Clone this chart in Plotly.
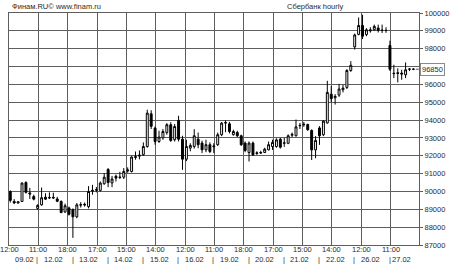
import plotly.graph_objects as go

# ---- data ----
day_labels = ["09.02", "12.02", "13.02", "14.02", "15.02", "16.02",
              "19.02", "20.02", "21.02", "22.02", "26.02", "27.02"]
day_first_hour = [12, 10, 10, 10, 10, 10, 10, 10, 10, 10, 10, 10]
day_last_hour = [18, 18, 18, 18, 18, 18, 18, 18, 18, 18, 18, 16]

opens = [90000, 89440, 89350, 89440, 90500, 89920, 89720, 89050, 89250, 89680,
         89630, 89670, 89580, 89440, 88850, 89080, 88980, 88580, 89230, 89280,
         89150, 90020, 90100, 90060, 90430, 91230, 90480, 90850, 90780, 90800,
         91150, 91120, 91900, 91980, 92060, 92520, 94350, 93550, 92800, 93000,
         93300, 93740, 92900, 93980, 92930, 91810, 92430, 92520, 92930, 92710,
         92335, 92620, 92500, 92620, 93180, 93830, 93790, 93180, 93300, 93120,
         92710, 92180, 92710, 92130, 92150, 92185, 92335, 92520, 92520, 92930,
         92700, 92700, 93150, 93120, 93680, 93740, 93750, 93420, 92330, 93560,
         93180, 93840, 95450, 95250, 95400, 95700, 95830, 96780, 98100, 98800,
         99300, 98790, 99000, 99060, 99160, 99030, 99030, 98180, 96600, 96650,
         96630, 96540, 96850, 96850]
highs = [90060, 89570, 89450, 90510, 90570, 90200, 89820, 89280, 90220, 89900,
         89950, 89930, 89700, 89500, 89320, 89150, 89050, 89350, 89400, 89380,
         90300, 90370, 90250, 90560, 91030, 91310, 90870, 90950, 91100, 91310,
         91350, 91980, 92240, 92300, 92750, 94580, 94550, 93640, 93400, 93500,
         93830, 93880, 93780, 94240, 93120, 92900, 92700, 93490, 93300, 92850,
         92900, 92750, 92700, 93300, 93890, 93980, 93900, 93460, 93400, 93180,
         92800, 92800, 92800, 92250, 92280, 92450, 92800, 92900, 92980, 93000,
         93000, 93200, 93300, 94030, 93840, 93900, 93800, 93480, 93100, 93660,
         94000, 96200, 95900, 95450, 96030, 95980, 96850, 97300, 98850, 99750,
         99900, 99150, 99200, 99350, 99350, 99350, 99200, 98450, 97100, 96900,
         96820, 97230, 96920, 96900]
lows = [89380, 89300, 89330, 89420, 89880, 89580, 89500, 88980, 89200, 89530,
        89580, 89580, 89400, 88780, 88800, 88650, 87400, 88500, 89100, 89150,
        89050, 89820, 89950, 90000, 90380, 90240, 90240, 90560, 90700, 90700,
        91050, 91060, 91780, 91800, 92000, 92450, 93500, 92620, 92720, 92900,
        93180, 92780, 92800, 92800, 91210, 91700, 92250, 92400, 92420, 92150,
        92200, 92150, 92150, 92550, 93100, 93320, 93250, 93130, 93050, 92550,
        92200, 91680, 92000, 92050, 92100, 92150, 92300, 92330, 92450, 92400,
        92500, 92650, 93050, 93080, 93500, 93620, 93400, 91760, 91860, 92610,
        93100, 93800, 95000, 94870, 95300, 95550, 95740, 96700, 97950, 98750,
        98540, 98700, 98900, 99000, 98910, 98880, 98890, 96750, 96350, 96110,
        96260, 96350, 96750, 96800]
closes = [89500, 89360, 89420, 90470, 89950, 89860, 89570, 89220, 89650, 89570,
          89660, 89640, 89450, 88820, 89200, 88720, 88580, 89250, 89260, 89250,
          90000, 90060, 90080, 90470, 90800, 90500, 90700, 90750, 90800, 91120,
          91200, 91930, 91950, 92030, 92520, 94390, 93650, 92800, 93050, 93360,
          93740, 92860, 93640, 92930, 91810, 92520, 92580, 93120, 92620, 92335,
          92620, 92240, 92540, 93180, 93830, 93860, 93360, 93360, 93120, 92620,
          92300, 92710, 92050, 92160, 92180, 92370, 92620, 92750, 92890, 92480,
          92720, 93120, 93200, 93620, 93700, 93760, 93460, 92330, 92860, 93120,
          93940, 95550, 95200, 95330, 95740, 95790, 96780, 97070, 98770, 99300,
          98700, 99060, 99050, 99250, 99030, 99030, 99020, 96850, 96620, 96620,
          96580, 96820, 96860, 96850]

time_tick_labels = ["12:00", "11:00", "18:00", "17:00", "15:00", "14:00", "12:00",
                    "11:00", "18:00", "17:00", "15:00", "14:00", "12:00", "11:00"]
price_ticks = list(range(87000, 100001, 1000))
last_price = 96850

# ---- build bar list ----
times = []
day_first_index = []
day_center_index = []
for d, h0, h1 in zip(day_labels, day_first_hour, day_last_hour):
    start = len(times)
    for h in range(h0, h1 + 1):
        times.append(f"{d} {h:02d}:00")
    day_first_index.append(start)
    day_center_index.append((start + len(times) - 1) / 2)
xs = list(range(len(times)))

W, H = 458, 266
ML, MR, MT, MB = 8, 31, 13, 21
BAR_PX = 4.0
X0 = -0.325
plot_w = W - ML - MR
plot_h = H - MT - MB
X1 = X0 + plot_w / BAR_PX
grid_step = 30 / BAR_PX
tickvals_x = [X0 + grid_step * j for j in range(len(time_tick_labels))]
tickvals_x[0] += 0.02

GRID = "#5e5e5e"
TXT = "#2a2a2a"
FONT = "Liberation Sans, Arial, sans-serif"
FS = 7.5

fig = go.Figure(go.Candlestick(
    x=xs, open=opens, high=highs, low=lows, close=closes,
    text=times, hoverinfo="text+y",
    increasing=dict(line=dict(color="#000000", width=1), fillcolor="#ffffff"),
    decreasing=dict(line=dict(color="#000000", width=1), fillcolor="#000000"),
    whiskerwidth=0, showlegend=False,
))

annotations = []


def py(px):
    return (H - MB - px) / plot_h


time_y = py(249.5)
date_y = py(259.5)
for v, t in zip(tickvals_x, time_tick_labels):
    annotations.append(dict(x=v, xref="x", y=time_y, yref="paper", text=t,
                            showarrow=False, xanchor="center", yanchor="middle",
                            font=dict(size=FS, color=TXT, family=FONT)))
for i, d in enumerate(day_labels):
    cx = day_center_index[i]
    if i == 0:
        cx += 0.7
    annotations.append(dict(x=cx, xref="x", y=date_y, yref="paper", text=d,
                            showarrow=False, xanchor="center", yanchor="middle",
                            font=dict(size=FS, color=TXT, family=FONT)))
    if i > 0:
        annotations.append(dict(x=day_first_index[i] - 0.1, xref="x", y=date_y, yref="paper",
                                text="|", showarrow=False, xanchor="center", yanchor="middle",
                                font=dict(size=FS, color=TXT, family=FONT)))

top_y = py(6.5)
annotations.append(dict(x=0, xref="paper", y=top_y, yref="paper",
                        text="Финам.RU© www.finam.ru", showarrow=False,
                        xanchor="left", yanchor="middle", xshift=1,
                        font=dict(size=FS, color=TXT, family=FONT)))
annotations.append(dict(x=(320.5 - ML) / plot_w, xref="paper", y=top_y, yref="paper",
                        text="Сбербанк hourly", showarrow=False,
                        xanchor="center", yanchor="middle",
                        font=dict(size=FS, color=TXT, family=FONT)))
annotations.append(dict(x=1, xref="paper", y=last_price, yref="y",
                        text=str(last_price), showarrow=False,
                        xanchor="left", yanchor="middle", xshift=1,
                        bordercolor="#8a8a8a", borderwidth=1, borderpad=1,
                        bgcolor="#ffffff",
                        font=dict(size=FS, color=TXT, family=FONT)))

fig.add_shape(type="line", xref="x", yref="y", x0=len(xs) - 0.4, x1=X1,
              y0=last_price, y1=last_price, line=dict(color="#555555", width=1, dash="dot"))

fig.update_layout(
    width=W, height=H,
    margin=dict(l=ML, r=MR, t=MT, b=MB, pad=0),
    paper_bgcolor="#ffffff", plot_bgcolor="#ffffff",
    font=dict(family=FONT, size=FS, color=TXT),
    annotations=annotations,
    hovermode="closest",
)
fig.update_xaxes(
    range=[X0, X1], rangeslider=dict(visible=False),
    tickmode="array", tickvals=tickvals_x, ticktext=time_tick_labels,
    showticklabels=False,
    ticks="", showgrid=True, gridcolor=GRID, gridwidth=1,
    showline=True, linecolor=GRID, linewidth=1, mirror=True,
    zeroline=False,
)
fig.update_yaxes(
    range=[87000, 100000], side="right",
    tickmode="array", tickvals=price_ticks,
    ticktext=["" if v == 97000 else str(v) for v in price_ticks],
    ticks="outside", ticklen=3, tickcolor=GRID,
    showgrid=True, gridcolor=GRID, gridwidth=1,
    showline=True, linecolor=GRID, linewidth=1, mirror=True,
    zeroline=False, tickfont=dict(size=FS, color=TXT, family=FONT),
)

fig.write_html("out.html")
